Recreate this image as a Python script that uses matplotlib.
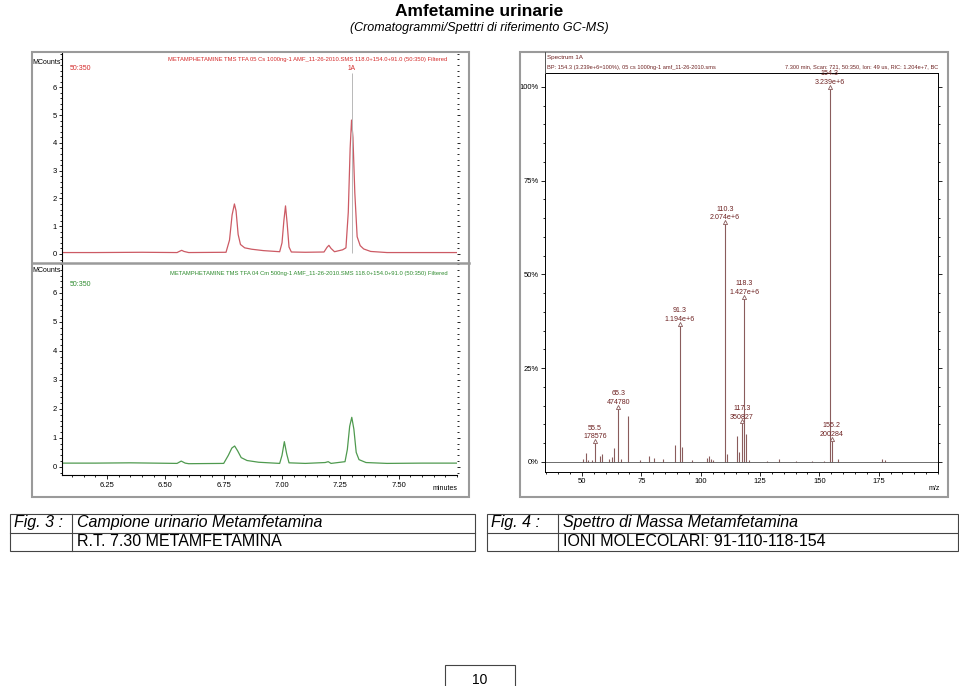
import matplotlib
matplotlib.use('Agg')
import matplotlib.pyplot as plt
from matplotlib import font_manager
from matplotlib.ticker import MultipleLocator
from matplotlib.patches import Rectangle
from matplotlib.lines import Line2D

names = {f.name for f in font_manager.fontManager.ttflist}
narrow = 'Liberation Sans Narrow' if 'Liberation Sans Narrow' in names else 'Liberation Sans'
plt.rcParams['font.family'] = [narrow, 'DejaVu Sans']

# ---- data ----
# chromatogram 1 (campione urinario), MCounts vs minutes
t_red = [6.057, 6.20, 6.40, 6.55, 6.562, 6.570, 6.580, 6.60, 6.76, 6.775, 6.786, 6.796, 6.803,
         6.812, 6.822, 6.84, 6.87, 6.92, 6.99, 7.000, 7.008, 7.015, 7.022, 7.030, 7.04, 7.10,
         7.18, 7.193, 7.201, 7.21, 7.225, 7.26, 7.274, 7.284, 7.292, 7.298, 7.304, 7.312,
         7.322, 7.335, 7.35, 7.38, 7.45, 7.60, 7.75]
v_red = [0.05, 0.05, 0.06, 0.05, 0.10, 0.13, 0.09, 0.05, 0.06, 0.50, 1.40, 1.80, 1.55,
         0.70, 0.34, 0.22, 0.17, 0.12, 0.08, 0.40, 1.20, 1.73, 1.10, 0.25, 0.07, 0.06,
         0.07, 0.24, 0.31, 0.20, 0.08, 0.15, 0.22, 1.50, 3.80, 4.82, 4.20, 2.20,
         0.62, 0.30, 0.18, 0.09, 0.05, 0.05, 0.05]

# chromatogram 2 (riferimento 500 ng)
t_green = [6.057, 6.20, 6.35, 6.55, 6.568, 6.585, 6.60, 6.75, 6.770, 6.785, 6.797, 6.810,
           6.825, 6.85, 6.90, 6.99, 7.000, 7.010, 7.020, 7.030, 7.10, 7.185, 7.198, 7.21,
           7.27, 7.280, 7.290, 7.299, 7.308, 7.318, 7.33, 7.36, 7.45, 7.60, 7.75]
v_green = [0.13, 0.13, 0.14, 0.12, 0.20, 0.13, 0.11, 0.12, 0.40, 0.65, 0.72, 0.55,
           0.32, 0.22, 0.16, 0.12, 0.40, 0.87, 0.45, 0.14, 0.12, 0.15, 0.18, 0.12,
           0.18, 0.60, 1.40, 1.71, 1.30, 0.50, 0.25, 0.15, 0.12, 0.13, 0.13]
rt_mark = 7.30

# mass spectrum at 7.300 min (% of base peak)
mz = [50.3, 51.5, 52.7, 54.0, 55.5, 57.6, 58.6, 61.5, 62.5, 63.5, 65.3, 66.4, 69.4, 74.4,
      78.2, 80.3, 84.2, 89.1, 91.3, 92.2, 96.2, 102.5, 103.3, 104.3, 105.3, 110.3, 111.2,
      115.1, 116.2, 117.3, 118.3, 119.0, 120.4, 128.0, 133.0, 140.0, 147.0, 152.0, 154.3,
      155.2, 158.0, 176.3, 177.6]
rel = [0.9, 2.4, 0.5, 0.4, 5.5, 1.5, 2.2, 0.9, 1.2, 3.6, 14.7, 0.9, 12.2, 0.4,
       1.5, 1.1, 0.8, 4.4, 36.9, 4.0, 0.4, 1.1, 1.5, 0.8, 0.6, 64.0, 2.2,
       6.9, 2.7, 10.8, 44.1, 7.4, 0.4, 0.3, 0.9, 0.3, 0.3, 0.3, 100.0,
       6.2, 0.9, 0.9, 0.4]
lab_mz = [154.3, 110.3, 118.3, 91.3, 65.3, 55.5, 117.3, 155.2]
lab_pct = [100.0, 64.0, 44.1, 36.9, 14.7, 5.5, 10.8, 6.2]
lab_int = ['3.239e+6', '2.074e+6', '1.427e+6', '1.194e+6', '474780', '178576', '350827', '200284']

W, H = 959, 686


def rect(x0, y0, x1, y1):
    return [x0 / W, 1 - y1 / H, (x1 - x0) / W, (y1 - y0) / H]


def fx(x):
    return x / W


def fy(y):
    return 1 - y / H


fig = plt.figure(figsize=(9.59, 6.86), dpi=100)

fig.text(0.5, fy(11), 'Amfetamine urinarie', ha='center', va='center', fontsize=12.5, weight='bold')
fig.text(0.5, fy(28), '(Cromatogrammi/Spettri di riferimento GC-MS)', ha='center', va='center',
         fontsize=9, style='italic')

# panel borders
for x0, x1 in [(32, 469), (520, 948)]:
    fig.patches.append(Rectangle((fx(x0), fy(497)), fx(x1 - x0), (497 - 52) / H, fill=False,
                                 edgecolor='#9a9a9a', lw=1.5, transform=fig.transFigure))
fig.lines.append(Line2D([fx(32), fx(469)], [fy(263), fy(263)], color='#9a9a9a', lw=1.8,
                        transform=fig.transFigure))

red_line = '#cc5a64'
red_txt = '#d42a2a'
green_line = '#4f9a4f'
green_txt = '#2e8b2e'
tick_fs = 5.5


def style_chrom(ax, ymin, ymax, show_x):
    ax.set_xlim(6.057, 7.75)
    ax.set_ylim(ymin, ymax)
    ax.set_facecolor('none')
    for s in ['top', 'right', 'bottom']:
        ax.spines[s].set_visible(False)
    ax.spines['left'].set_linewidth(0.8)
    ax.set_yticks(range(0, 7))
    ax.yaxis.set_minor_locator(MultipleLocator(0.2))
    ax.tick_params(axis='y', which='both', left=True, right=True, direction='out', labelsize=tick_fs,
                   length=2.5, width=0.6, pad=1)
    ax.tick_params(axis='y', which='minor', length=1.2)
    if show_x:
        ax.spines['bottom'].set_visible(True)
        ax.spines['bottom'].set_linewidth(0.8)
        ax.xaxis.set_minor_locator(MultipleLocator(0.05))
        ax.tick_params(axis='x', which='both', direction='out', labelsize=tick_fs, length=3, width=0.6, pad=2)
        ax.tick_params(axis='x', which='minor', length=1.5)
        ax.set_xticks([6.25, 6.50, 6.75, 7.00, 7.25, 7.50])
        ax.set_xticklabels(['6.25', '6.50', '6.75', '7.00', '7.25', '7.50'])
    else:
        ax.set_xticks([])


ax1 = fig.add_axes(rect(62, 52, 457, 262))
style_chrom(ax1, -0.29, 7.27, False)
ax1.plot(t_red, v_red, color=red_line, lw=0.9)
ax1.vlines(rt_mark, 0.05, 6.5, color='#b8b8b8', lw=0.7)
ax1.text(rt_mark, 6.69, '1A', color=red_txt, fontsize=4.8, ha='center', va='center')
ax1.text(0.975, 0.962, 'METAMPHETAMINE TMS TFA 05 Cs 1000ng-1 AMF_11-26-2010.SMS 118.0+154.0+91.0 (50:350) Filtered',
         transform=ax1.transAxes, ha='right', va='center', color=red_txt, fontsize=4.2)
ax1.text(0.02, 0.92, '50:350', transform=ax1.transAxes, ha='left', va='center', color=red_txt, fontsize=5)
fig.text(fx(61), fy(62), 'MCounts', ha='right', va='center', fontsize=5)

ax2 = fig.add_axes(rect(62, 264, 457, 475))
style_chrom(ax2, -0.28, 7.0, True)
ax2.plot(t_green, v_green, color=green_line, lw=0.9)
ax2.text(0.975, 0.955, 'METAMPHETAMINE TMS TFA 04 Cm 500ng-1 AMF_11-26-2010.SMS 118.0+154.0+91.0 (50:350) Filtered',
         transform=ax2.transAxes, ha='right', va='center', color=green_txt, fontsize=4.2)
ax2.text(0.02, 0.905, '50:350', transform=ax2.transAxes, ha='left', va='center', color=green_txt, fontsize=5)
fig.text(fx(61), fy(270), 'MCounts', ha='right', va='center', fontsize=5)
fig.text(fx(458), fy(488), 'minutes', ha='right', va='center', fontsize=5)

# spectrum
brown = '#6e2222'
stem = '#8a5c5c'
ax3 = fig.add_axes(rect(545, 73, 938, 472))
ax3.set_xlim(34.4, 200)
ax3.set_ylim(-2.67, 103.7)
ax3.vlines(mz, 0, rel, color=stem, lw=0.8)
ax3.axhline(0, color='#555555', lw=0.6)
ax3.plot(lab_mz, lab_pct, linestyle='none', marker='^', markersize=3, markerfacecolor='white',
         markeredgecolor=stem, markeredgewidth=0.6)
for m, p, s in zip(lab_mz, lab_pct, lab_int):
    ax3.annotate(s, (m, p), xytext=(0, 3.2), textcoords='offset points', ha='center', va='center',
                 color=brown, fontsize=5.1)
    ax3.annotate(f'{m:.1f}', (m, p), xytext=(0, 9.3), textcoords='offset points', ha='center',
                 va='center', color=brown, fontsize=5.1)
ax3.set_yticks([0, 25, 50, 75, 100])
ax3.set_yticklabels(['0%', '25%', '50%', '75%', '100%'])
ax3.yaxis.set_minor_locator(MultipleLocator(5))
ax3.set_xticks([50, 75, 100, 125, 150, 175])
ax3.xaxis.set_minor_locator(MultipleLocator(5))
ax3.tick_params(axis='both', which='both', direction='out', labelsize=tick_fs, width=0.6, pad=1.5)
ax3.tick_params(axis='y', which='both', left=True, right=True)
ax3.tick_params(which='major', length=3)
ax3.tick_params(which='minor', length=1.5)
for s in ax3.spines.values():
    s.set_linewidth(0.7)
fig.text(fx(940), fy(488), 'm/z', ha='right', va='center', fontsize=5)

fig.text(fx(547), fy(58), 'Spectrum 1A', ha='left', va='center', color=brown, fontsize=4.5)
fig.text(fx(547), fy(67), 'BP: 154.3 (3.239e+6=100%), 05 cs 1000ng-1 amf_11-26-2010.sms',
         ha='left', va='center', color=brown, fontsize=4.05)
fig.text(fx(938), fy(67), '7.300 min, Scan: 721, 50:350, Ion: 49 us, RIC: 1.204e+7, BC',
         ha='right', va='center', color=brown, fontsize=4.05)
fig.lines.append(Line2D([fx(545), fx(545)], [fy(52), fy(73)], color='#555555', lw=0.7,
                        transform=fig.transFigure))


# caption tables
def table(x0, x1, xc, lines_top, lines_bot):
    c = '#444444'
    fig.patches.append(Rectangle((fx(x0), fy(551)), fx(x1 - x0), (551 - 514) / H, fill=False,
                                 edgecolor=c, lw=0.8, transform=fig.transFigure))
    fig.lines.append(Line2D([fx(x0), fx(x1)], [fy(532.5), fy(532.5)], color=c, lw=0.8,
                            transform=fig.transFigure))
    fig.lines.append(Line2D([fx(xc), fx(xc)], [fy(514), fy(551)], color=c, lw=0.8,
                            transform=fig.transFigure))
    fig.text(fx(x0 + 4), fy(523), lines_top[0], ha='left', va='center', fontsize=11.5, style='italic')
    fig.text(fx(xc + 5), fy(523), lines_top[1], ha='left', va='center', fontsize=11.5, style='italic')
    fig.text(fx(xc + 5), fy(542), lines_bot, ha='left', va='center', fontsize=11.5)


table(10, 475, 72, ['Fig. 3 :', 'Campione urinario Metamfetamina'], 'R.T. 7.30 METAMFETAMINA')
table(487, 958, 558, ['Fig. 4 :', 'Spettro di Massa Metamfetamina'], 'IONI MOLECOLARI: 91-110-118-154')

# page number
fig.patches.append(Rectangle((fx(445), fy(690)), fx(70), 25 / H, fill=False, edgecolor='#444444',
                             lw=0.8, transform=fig.transFigure))
fig.text(fx(480), fy(680), '10', ha='center', va='center', fontsize=10)

fig.savefig('out.png', dpi=100)
